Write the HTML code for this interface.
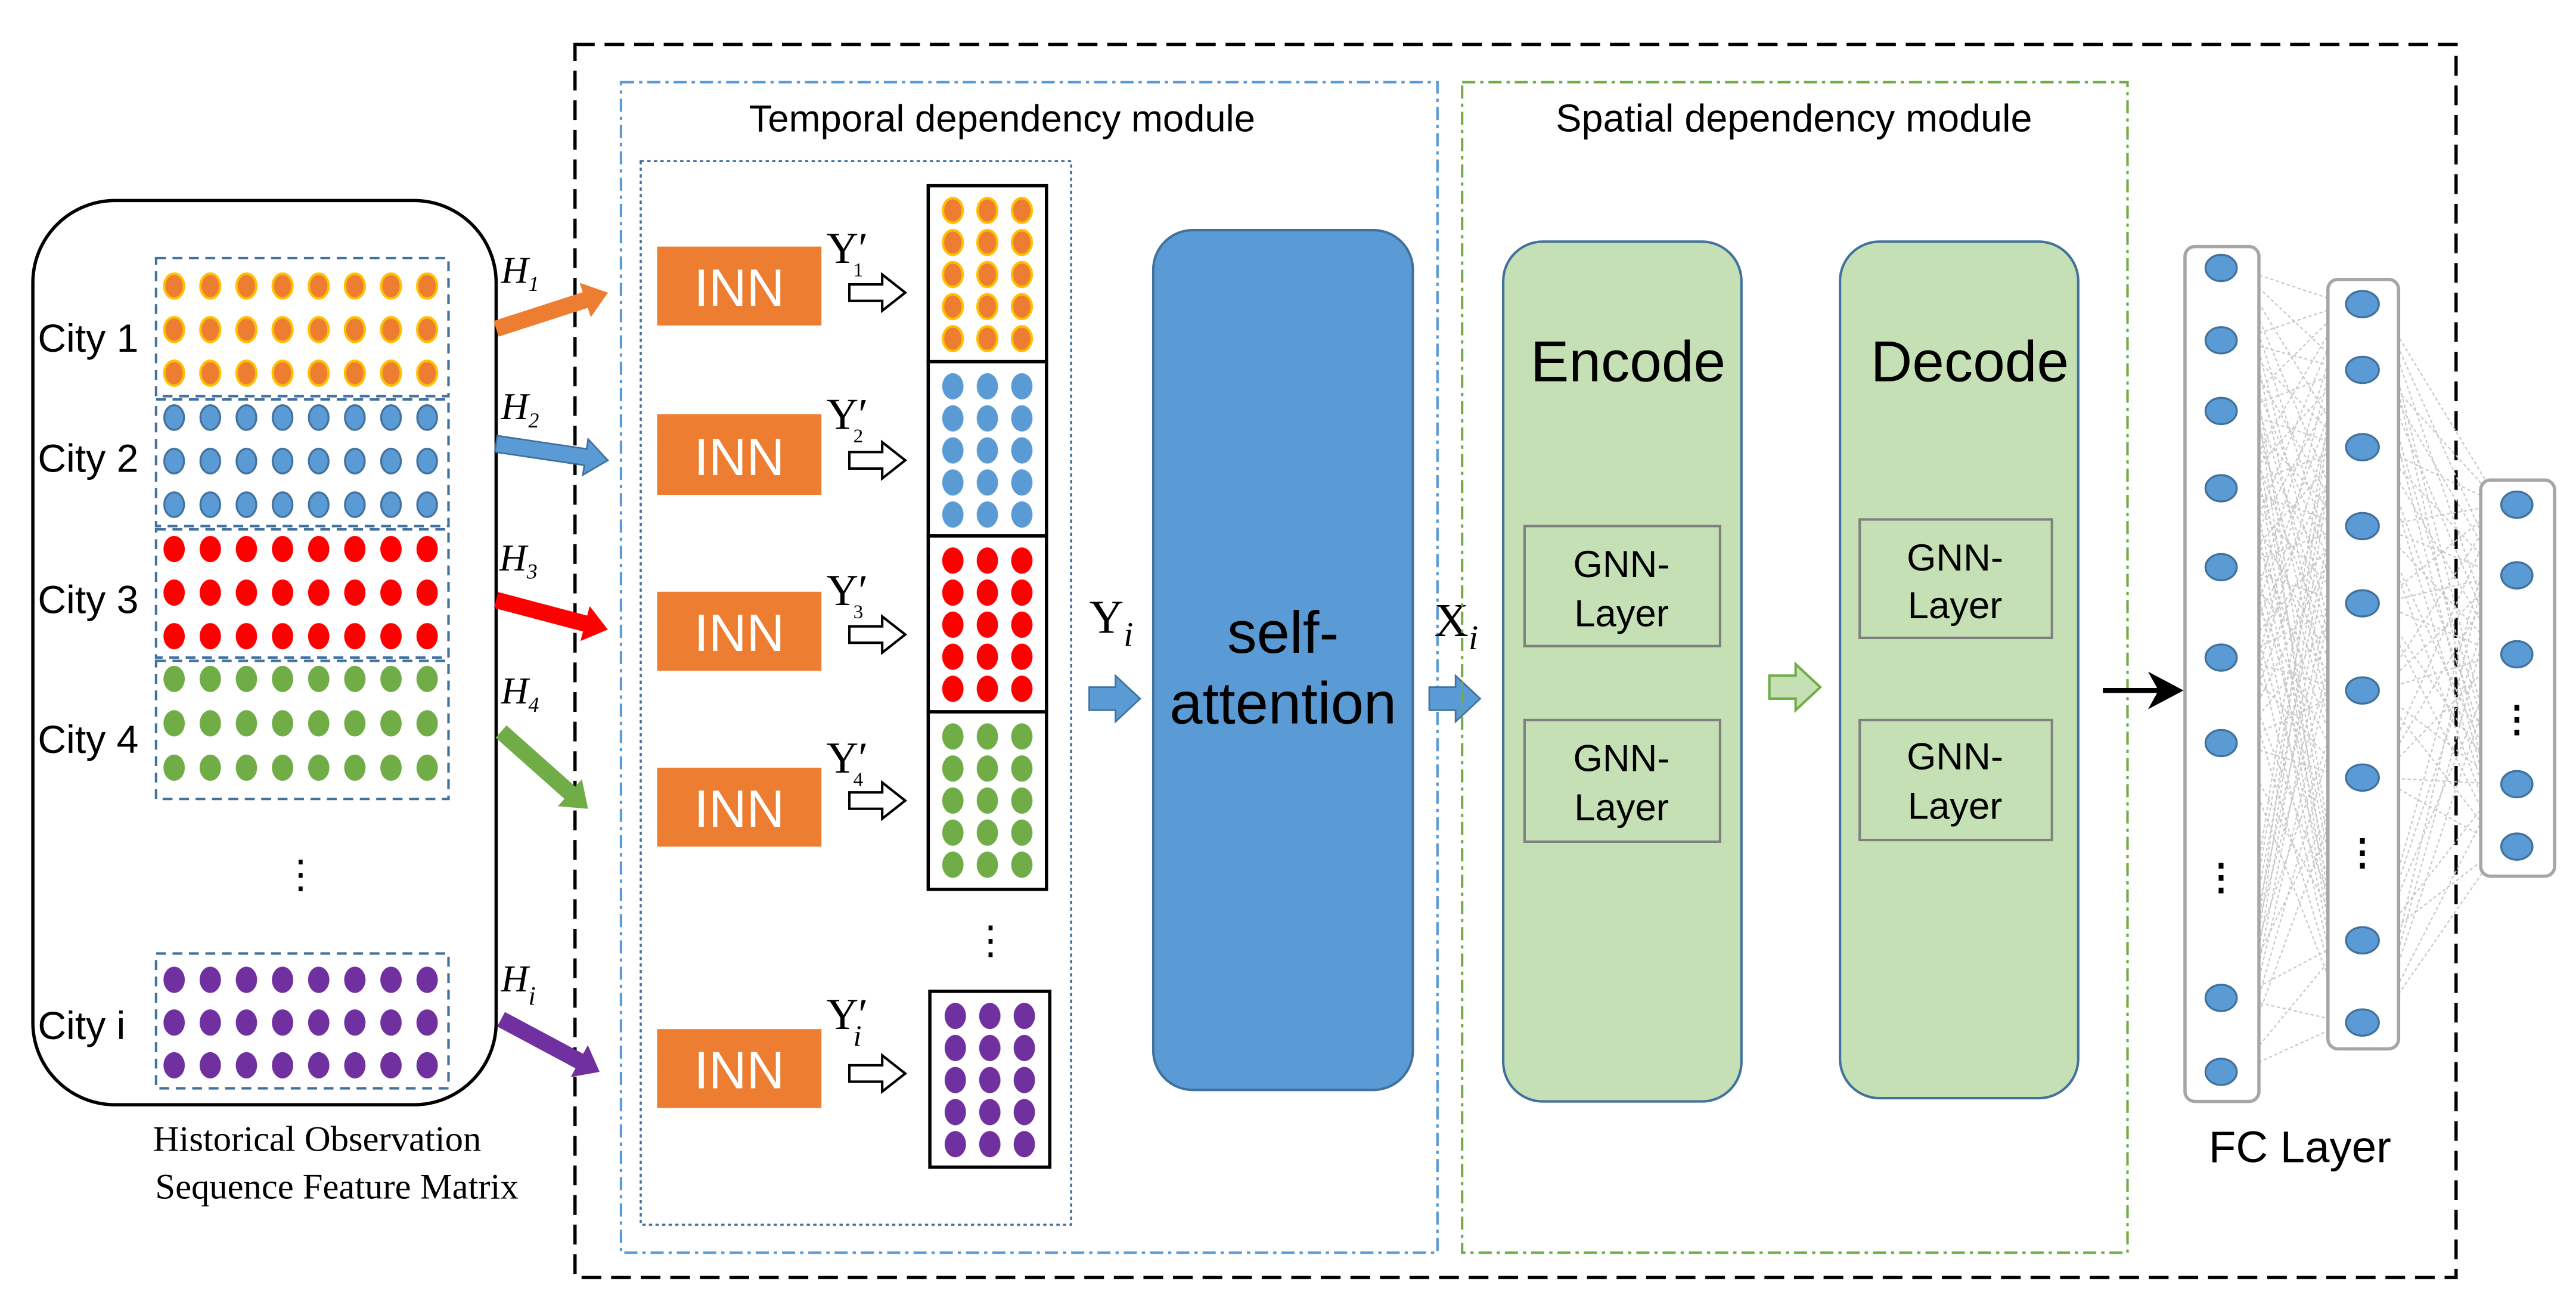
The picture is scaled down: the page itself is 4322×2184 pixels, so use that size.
<!DOCTYPE html>
<html><head><meta charset="utf-8"><style>html,body{margin:0;padding:0;background:#fff}svg{display:block}</style></head><body>
<svg width="4322" height="2184" viewBox="0 0 1568 792" preserveAspectRatio="none" xmlns="http://www.w3.org/2000/svg">
<defs>
<pattern id="po" width="22" height="26.5" patternUnits="userSpaceOnUse"><ellipse cx="11" cy="13" rx="6" ry="7.5" fill="#ed7d31" stroke="#ffc000" stroke-width="1.5"/></pattern>
<pattern id="pb" width="22" height="26.5" patternUnits="userSpaceOnUse"><ellipse cx="11" cy="13" rx="6" ry="7.5" fill="#5b9bd5" stroke="#41719c" stroke-width="1.2"/></pattern>
<pattern id="pr" width="22" height="26.5" patternUnits="userSpaceOnUse"><ellipse cx="11" cy="13" rx="6.5" ry="8" fill="#ff0000"/></pattern>
<pattern id="pg" width="22" height="27" patternUnits="userSpaceOnUse"><ellipse cx="11" cy="13" rx="6.5" ry="8" fill="#70ad47"/></pattern>
<pattern id="pp" width="22" height="26" patternUnits="userSpaceOnUse"><ellipse cx="11" cy="13" rx="6.5" ry="8" fill="#7030a0"/></pattern>
<pattern id="mo" width="21" height="19.5" patternUnits="userSpaceOnUse"><ellipse cx="10.5" cy="10" rx="6" ry="7.5" fill="#ed7d31" stroke="#ffc000" stroke-width="1.5"/></pattern>
<pattern id="mb" width="21" height="19.5" patternUnits="userSpaceOnUse"><ellipse cx="10.5" cy="10" rx="6.5" ry="8" fill="#5b9bd5"/></pattern>
<pattern id="mr" width="21" height="19.5" patternUnits="userSpaceOnUse"><ellipse cx="10.5" cy="10" rx="6.5" ry="8" fill="#ff0000"/></pattern>
<pattern id="mg" width="21" height="19.5" patternUnits="userSpaceOnUse"><ellipse cx="10.5" cy="10" rx="6.5" ry="8" fill="#70ad47"/></pattern>
<pattern id="mp" width="21" height="19.5" patternUnits="userSpaceOnUse"><ellipse cx="10.5" cy="10" rx="6.5" ry="8" fill="#7030a0"/></pattern>
</defs>
<g font-family="Liberation Sans, sans-serif">
<rect x="350" y="27" width="1145" height="750" fill="none" stroke="#000" stroke-width="2" stroke-dasharray="12 6"/>
<rect x="20" y="122" width="282" height="550" rx="50" fill="none" stroke="#000" stroke-width="2"/>
<g fill="none" stroke="#41719c" stroke-width="1.5" stroke-dasharray="6 4">
<rect x="95" y="157" width="178" height="84"/><rect x="95" y="243" width="178" height="77"/><rect x="95" y="322" width="178" height="78"/><rect x="95" y="402" width="178" height="84"/><rect x="95" y="580" width="178" height="82"/></g>
<g transform="translate(95,161)"><rect width="176" height="79.5" fill="url(#po)"/></g>
<g transform="translate(95,241)"><rect width="176" height="79.5" fill="url(#pb)"/></g>
<g transform="translate(95,321)"><rect width="176" height="79.5" fill="url(#pr)"/></g>
<g transform="translate(95,400)"><rect width="176" height="81" fill="url(#pg)"/></g>
<g transform="translate(95,583)"><rect width="176" height="78" fill="url(#pp)"/></g>
<g font-size="24" fill="#000"><text x="23" y="214">City 1</text><text x="23" y="287">City 2</text><text x="23" y="373">City 3</text><text x="23" y="458">City 4</text><text x="23" y="632">City  i</text></g>
<text x="183" y="540" font-size="24" text-anchor="middle">⋮</text>
<g font-family="Liberation Serif, serif" font-size="22" text-anchor="middle"><text x="193" y="700">Historical  Observation</text><text x="205" y="729">Sequence Feature Matrix</text></g>
<g transform="translate(302,200) rotate(-17.9)"><path d="M0 -5H57V-11L71.5 0L57 11V5H0Z" fill="#ed7d31"/></g>
<g transform="translate(302,270) rotate(8.4)"><path d="M0 -5H55V-11L68.7 0L55 11V5H0Z" fill="#5b9bd5" stroke="#41719c"/></g>
<g transform="translate(302,365) rotate(14.8)"><path d="M0 -5H56V-11L70.3 0L56 11V5H0Z" fill="#ff0000"/></g>
<g transform="translate(305,445) rotate(41.6)"><path d="M0 -5H56V-11L70.8 0L56 11V5H0Z" fill="#70ad47"/></g>
<g transform="translate(305,620) rotate(28.1)"><path d="M0 -5H54V-11L68 0L54 11V5H0Z" fill="#7030a0"/></g>
<g font-family="Liberation Serif, serif" font-style="italic" font-size="23"><text x="305" y="172">H<tspan font-size="13" dy="5">1</tspan></text><text x="305" y="255">H<tspan font-size="13" dy="5">2</tspan></text><text x="304" y="347">H<tspan font-size="13" dy="5">3</tspan></text><text x="305" y="428">H<tspan font-size="13" dy="5">4</tspan></text><text x="305" y="603">H<tspan font-size="16" dy="8">i</tspan></text></g>
<rect x="378" y="50" width="497" height="712" fill="none" stroke="#5b9bd5" stroke-width="1.5" stroke-dasharray="8 3 2 3"/>
<text x="610" y="80" font-size="23" text-anchor="middle">Temporal dependency module</text>
<rect x="390" y="98" width="262" height="647" fill="none" stroke="#41719c" stroke-width="1.3" stroke-dasharray="2 2"/>
<g fill="#ed7d31"><rect x="400" y="150" width="100" height="48"/><rect x="400" y="252" width="100" height="49"/><rect x="400" y="360" width="100" height="48"/><rect x="400" y="467" width="100" height="48"/><rect x="400" y="626" width="100" height="48"/></g>
<g fill="#fff" font-size="32" text-anchor="middle"><text x="450" y="186">INN</text><text x="450" y="289">INN</text><text x="450" y="396">INN</text><text x="450" y="503">INN</text><text x="450" y="662">INN</text></g>
<g font-family="Liberation Serif, serif" font-size="27"><text x="503" y="160">Y′<tspan font-size="12" dx="-9" dy="8">1</tspan></text><text x="503" y="261">Y′<tspan font-size="12" dx="-9" dy="8">2</tspan></text><text x="503" y="368">Y′<tspan font-size="12" dx="-9" dy="8">3</tspan></text><text x="503" y="470">Y′<tspan font-size="12" dx="-9" dy="8">4</tspan></text><text x="503" y="626">Y′<tspan font-style="italic" font-size="18" dx="-9" dy="10">i</tspan></text></g>
<g fill="#fff" stroke="#000" stroke-width="1.5">
<path d="M517 173H537V167L551 178L537 189V183H517Z"/><path d="M517 275H537V269L551 280L537 291V285H517Z"/><path d="M517 381H537V375L551 386L537 397V391H517Z"/><path d="M517 482H537V476L551 487L537 498V492H517Z"/><path d="M517 648H537V642L551 653L537 664V658H517Z"/></g>
<g fill="#fff" stroke="#000" stroke-width="2"><rect x="565" y="113" width="72" height="107"/><rect x="565" y="220" width="72" height="106"/><rect x="565" y="326" width="72" height="107"/><rect x="565" y="433" width="72" height="108"/><rect x="566" y="603" width="73" height="107"/></g>
<g transform="translate(569.5,118)"><rect width="63" height="98" fill="url(#mo)"/></g>
<g transform="translate(569.5,225)"><rect width="63" height="98" fill="url(#mb)"/></g>
<g transform="translate(569.5,331)"><rect width="63" height="98" fill="url(#mr)"/></g>
<g transform="translate(569.5,438)"><rect width="63" height="98" fill="url(#mg)"/></g>
<g transform="translate(571,608)"><rect width="63" height="98" fill="url(#mp)"/></g>
<text x="603" y="580" font-size="24" text-anchor="middle">⋮</text>
<text x="663" y="385" font-family="Liberation Serif, serif" font-size="29">Y<tspan font-style="italic" font-size="21" dy="8">i</tspan></text>
<path d="M663 418H679V411L694 425L679 439V432H663Z" fill="#5b9bd5" stroke="#41719c"/>
<rect x="702" y="140" width="158" height="523" rx="24" fill="#5b9bd5" stroke="#41719c" stroke-width="1.5"/>
<g font-size="36" text-anchor="middle"><text x="781" y="397">self-</text><text x="781" y="440">attention</text></g>
<text x="873" y="387" font-family="Liberation Serif, serif" font-size="29">X<tspan font-style="italic" font-size="21" dy="8">i</tspan></text>
<path d="M870 418H886V411L901 425L886 439V432H870Z" fill="#5b9bd5" stroke="#41719c"/>
<rect x="890" y="50" width="405" height="712" fill="none" stroke="#70ad47" stroke-width="1.5" stroke-dasharray="8 3 2 3"/>
<text x="1092" y="80" font-size="23.5" text-anchor="middle">Spatial dependency module</text>
<rect x="915" y="147" width="145" height="523" rx="24" fill="#c5e0b4" stroke="#41719c" stroke-width="1.5"/>
<rect x="1120" y="147" width="145" height="521" rx="24" fill="#c5e0b4" stroke="#41719c" stroke-width="1.5"/>
<g font-size="35" text-anchor="middle"><text x="991" y="232">Encode</text><text x="1199" y="232">Decode</text></g>
<g fill="none" stroke="#7f7f7f" stroke-width="1.5"><rect x="928" y="320" width="119" height="73"/><rect x="928" y="438" width="119" height="74"/><rect x="1132" y="316" width="117" height="72"/><rect x="1132" y="438" width="117" height="73"/></g>
<g font-size="23" text-anchor="middle"><text x="987" y="351">GNN-</text><text x="987" y="381">Layer</text><text x="987" y="469">GNN-</text><text x="987" y="499">Layer</text><text x="1190" y="347">GNN-</text><text x="1190" y="376">Layer</text><text x="1190" y="468">GNN-</text><text x="1190" y="498">Layer</text></g>
<path d="M1077 411H1093V404L1108 418L1093 432V425H1077Z" fill="#c5e0b4" stroke="#70ad47" stroke-width="1.5"/>
<line x1="1280" y1="420" x2="1314" y2="420" stroke="#000" stroke-width="3"/><path d="M1327 420L1310 411L1315 420L1310 429Z" fill="#000" stroke="#000" stroke-width="2"/>
<g fill="none" stroke="#c8c8c8" stroke-width="0.8" stroke-dasharray="2 1.5">
<path d="M1362 163L1428 185M1362 163L1428 225M1362 163L1428 272M1362 163L1428 320M1362 163L1428 367M1362 163L1428 420M1362 163L1428 473M1362 163L1428 572M1362 163L1428 622M1362 207L1428 185M1362 207L1428 225M1362 207L1428 272M1362 207L1428 320M1362 207L1428 367M1362 207L1428 420M1362 207L1428 473M1362 207L1428 572M1362 207L1428 622M1362 250L1428 185M1362 250L1428 225M1362 250L1428 272M1362 250L1428 320M1362 250L1428 367M1362 250L1428 420M1362 250L1428 473M1362 250L1428 572M1362 250L1428 622M1362 297L1428 185M1362 297L1428 225M1362 297L1428 272M1362 297L1428 320M1362 297L1428 367M1362 297L1428 420M1362 297L1428 473M1362 297L1428 572M1362 297L1428 622M1362 345L1428 185M1362 345L1428 225M1362 345L1428 272M1362 345L1428 320M1362 345L1428 367M1362 345L1428 420M1362 345L1428 473M1362 345L1428 572M1362 345L1428 622M1362 400L1428 185M1362 400L1428 225M1362 400L1428 272M1362 400L1428 320M1362 400L1428 367M1362 400L1428 420M1362 400L1428 473M1362 400L1428 572M1362 400L1428 622M1362 452L1428 185M1362 452L1428 225M1362 452L1428 272M1362 452L1428 320M1362 452L1428 367M1362 452L1428 420M1362 452L1428 473M1362 452L1428 572M1362 452L1428 622M1362 607L1428 185M1362 607L1428 225M1362 607L1428 272M1362 607L1428 320M1362 607L1428 367M1362 607L1428 420M1362 607L1428 473M1362 607L1428 572M1362 607L1428 622M1362 652L1428 185M1362 652L1428 225M1362 652L1428 272M1362 652L1428 320M1362 652L1428 367M1362 652L1428 420M1362 652L1428 473M1362 652L1428 572M1362 652L1428 622"/>
<path d="M1448 185L1522 307M1448 185L1522 350M1448 185L1522 398M1448 185L1522 477M1448 185L1522 515M1448 225L1522 307M1448 225L1522 350M1448 225L1522 398M1448 225L1522 477M1448 225L1522 515M1448 272L1522 307M1448 272L1522 350M1448 272L1522 398M1448 272L1522 477M1448 272L1522 515M1448 320L1522 307M1448 320L1522 350M1448 320L1522 398M1448 320L1522 477M1448 320L1522 515M1448 367L1522 307M1448 367L1522 350M1448 367L1522 398M1448 367L1522 477M1448 367L1522 515M1448 420L1522 307M1448 420L1522 350M1448 420L1522 398M1448 420L1522 477M1448 420L1522 515M1448 473L1522 307M1448 473L1522 350M1448 473L1522 398M1448 473L1522 477M1448 473L1522 515M1448 572L1522 307M1448 572L1522 350M1448 572L1522 398M1448 572L1522 477M1448 572L1522 515M1448 622L1522 307M1448 622L1522 350M1448 622L1522 398M1448 622L1522 477M1448 622L1522 515"/></g>
<g fill="#fff" stroke="#a6a6a6" stroke-width="2"><rect x="1330" y="150" width="45" height="520" rx="6"/><rect x="1417" y="170" width="43" height="468" rx="6"/><rect x="1510" y="292" width="45" height="241" rx="6"/></g>
<g fill="#5b9bd5" stroke="#41719c" stroke-width="1.2">
<ellipse cx="1352" cy="163" rx="9.5" ry="8"/><ellipse cx="1352" cy="207" rx="9.5" ry="8"/><ellipse cx="1352" cy="250" rx="9.5" ry="8"/><ellipse cx="1352" cy="297" rx="9.5" ry="8"/><ellipse cx="1352" cy="345" rx="9.5" ry="8"/><ellipse cx="1352" cy="400" rx="9.5" ry="8"/><ellipse cx="1352" cy="452" rx="9.5" ry="8"/><ellipse cx="1352" cy="607" rx="9.5" ry="8"/><ellipse cx="1352" cy="652" rx="9.5" ry="8"/>
<ellipse cx="1438" cy="185" rx="10" ry="8"/><ellipse cx="1438" cy="225" rx="10" ry="8"/><ellipse cx="1438" cy="272" rx="10" ry="8"/><ellipse cx="1438" cy="320" rx="10" ry="8"/><ellipse cx="1438" cy="367" rx="10" ry="8"/><ellipse cx="1438" cy="420" rx="10" ry="8"/><ellipse cx="1438" cy="473" rx="10" ry="8"/><ellipse cx="1438" cy="572" rx="10" ry="8"/><ellipse cx="1438" cy="622" rx="10" ry="8"/>
<ellipse cx="1532" cy="307" rx="9.5" ry="8"/><ellipse cx="1532" cy="350" rx="9.5" ry="8"/><ellipse cx="1532" cy="398" rx="9.5" ry="8"/><ellipse cx="1532" cy="477" rx="9.5" ry="8"/><ellipse cx="1532" cy="515" rx="9.5" ry="8"/></g>
<g font-size="22" text-anchor="middle" font-weight="bold"><text x="1352" y="541">⋮</text><text x="1438" y="526">⋮</text><text x="1532" y="445">⋮</text></g>
<text x="1400" y="707" font-size="27" text-anchor="middle">FC Layer</text>
</g>
</svg>
</body></html>
